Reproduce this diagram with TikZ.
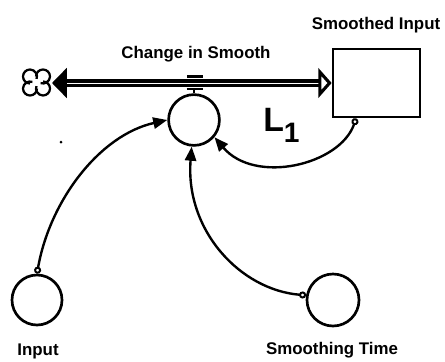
\documentclass[tikz,border=0pt]{standalone}
\usepackage{fontspec}
\setmainfont{Liberation Sans}
\usetikzlibrary{arrows.meta}
\definecolor{ink}{RGB}{0,0,0}
\tikzset{
  aux/.style={circle,draw=ink,line width=1.9pt,inner sep=0pt},
  lvl/.style={rectangle,draw=ink,line width=1.9pt,minimum width=2.175cm,
    minimum height=1.7cm,inner sep=0pt},
  lbl/.style={font=\fontsize{12}{14}\selectfont\bfseries,inner sep=0pt},
  valvebar/.style={rectangle,fill=ink,minimum width=0.4cm,minimum height=0.09cm,inner sep=0pt},
  lnk/.style={line width=1.7pt,draw=ink,
    {Circle[open,length=5pt,width=5pt,fill=white,line width=1.4pt]}-{Triangle[length=10pt,width=8pt]}},
  pipe/.style={draw=ink,line width=2.2pt,double=white,double distance=0.7pt,
    {Triangle[length=10.5pt,width=21pt]}-{Triangle[open,length=9.5pt,width=21pt,fill=white]}},
}

\begin{document}
\begin{tikzpicture}[x=0.025cm,y=-0.025cm]
\useasboundingbox (0,0) rectangle (445,361);
% stock, flow and rate
\node[lvl] (stock) at (376.5,83) {};
\node[lbl] at (376,25) {Smoothed Input};
\coordinate (src) at (52,83);
\begin{scope}[shift={(36.5,82.5)},y=0.025cm,line width=1.6pt]
  \foreach \cx/\cy/\a in {6.5/6/180,6.5/-6/90,-6.5/-6/0,-6.5/6/270}
    \draw[ink] (\cx,\cy) +(\a:7) arc[start angle=\a,delta angle=-290,radius=7];
\end{scope}
\node[valvebar] (valve) at (195,76.5) {};
\node[aux,minimum size=1.27cm] (rate) at (194,120) {};
\node[lbl] at (196,54) {Change in Smooth};
\coordinate (vstem) at (194,89);
\draw[pipe] (src) -- (stock);
\draw[line width=1.6pt] (rate.north) -- (vstem);
\draw[line width=1.6pt] (vstem -| valve.west) -- (vstem -| valve.east);
% auxiliaries
\node[aux,minimum size=1.25cm] (input) at (37,300) {};
\node[lbl] at (38,351) {Input};
\node[aux,minimum size=1.3cm] (stime) at (333,300) {};
\node[lbl] at (332,350) {Smoothing Time};
% links
\draw[lnk] (input.north) .. controls (50,200) and (100,135) .. (rate.west);
\draw[lnk] (stime.170) .. controls (240,290) and (185,230) .. (rate.265);
\draw[lnk] (stock.-120) .. controls (340,165) and (255,185) .. (rate.-40);
\node[anchor=base west,inner sep=0pt,font=\fontsize{24}{24}\selectfont\bfseries] (loop) at (263,131)
  {L\raisebox{-8.5pt}{\fontsize{20}{20}\selectfont 1}};
\fill[ink] (61,142) circle (1.5);
\end{tikzpicture}
\end{document}
